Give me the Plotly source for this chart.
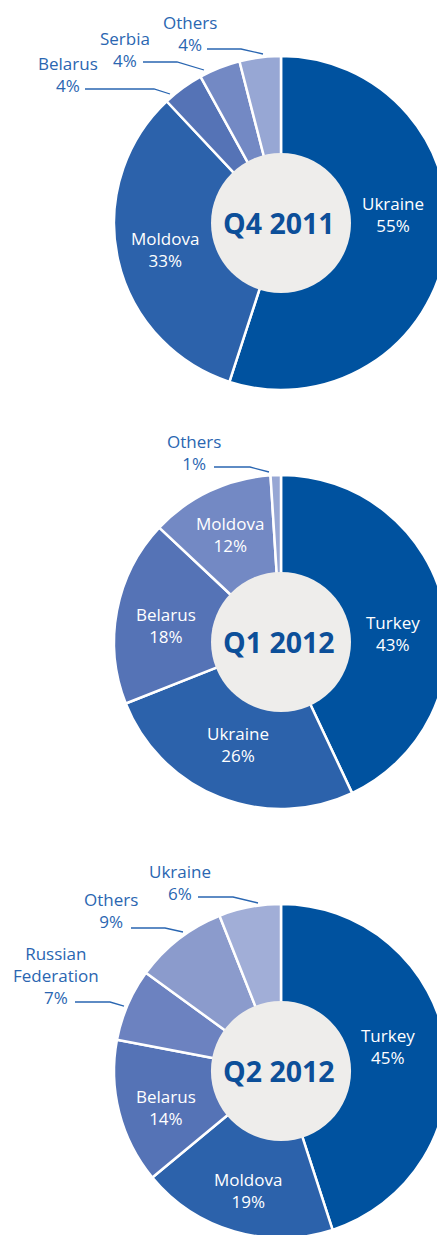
import plotly.graph_objects as go

# ---- data -------------------------------------------------------------
periods = ["Q4 2011", "Q1 2012", "Q2 2012"]

q4_countries = ["Ukraine", "Moldova", "Belarus", "Serbia", "Others"]
q4_shares = [55, 33, 4, 4, 4]

q1_countries = ["Turkey", "Ukraine", "Belarus", "Moldova", "Others"]
q1_shares = [43, 26, 18, 12, 1]

q2_countries = ["Turkey", "Moldova", "Belarus", "Russian Federation", "Others", "Ukraine"]
q2_shares = [45, 19, 14, 7, 9, 6]

# ---- styling ----------------------------------------------------------
W, H = 562, 1240          # canvas in px; the right cap of each ring runs off the page
CX = 281                  # horizontal centre of the rings (px)
CENTERS_Y = [223, 642, 1071]
R_OUT, R_HUB = 167, 70

FONT = "Open Sans"
LABEL_BLUE = "#2A66B1"
TITLE_BLUE = "#0C4F99"
HUB_GREY = "#EEEDEB"

palette5 = ["#00529F", "#2C62AB", "#5573B6", "#7389C4", "#97A7D4"]
palette6 = ["#00529F", "#2C62AB", "#5573B6", "#6C82C0", "#8B9BCC", "#A1AED7"]

# label anchors (px, centre of text block); outside labels carry a leader line
label_layout = [
    {  # Q4 2011
        "Ukraine": dict(xy=(393, 215)),
        "Moldova": dict(xy=(165, 249)),
        "Belarus": dict(xy=(68, 74), leader=[(85, 89), (154, 89), (170, 94)]),
        "Serbia": dict(xy=(125, 50), leader=[(143, 62), (177, 62), (204, 70)]),
        "Others": dict(xy=(190, 33), leader=[(207, 49), (241, 49), (263, 54)]),
    },
    {  # Q1 2012
        "Turkey": dict(xy=(393, 634)),
        "Ukraine": dict(xy=(238, 744)),
        "Belarus": dict(xy=(166, 625)),
        "Moldova": dict(xy=(230, 535)),
        "Others": dict(xy=(194, 452), leader=[(214, 467), (250, 467), (269, 472)]),
    },
    {  # Q2 2012
        "Turkey": dict(xy=(388, 1046)),
        "Moldova": dict(xy=(248, 1190)),
        "Belarus": dict(xy=(166, 1107)),
        "Russian Federation": dict(xy=(56, 975), leader=[(75, 1002), (110, 1002), (124, 1006)]),
        "Others": dict(xy=(111, 911), leader=[(131, 928), (165, 928), (183, 932)]),
        "Ukraine": dict(xy=(180, 882), leader=[(198, 897), (233, 897), (258, 903)]),
    },
]


def px_x(x):
    return x / W


def px_y(y):
    return 1 - y / H


datasets = [
    (q4_countries, q4_shares, palette5),
    (q1_countries, q1_shares, palette5),
    (q2_countries, q2_shares, palette6),
]

fig = go.Figure()
annotations = []
shapes = []

for period, cy, (countries, shares, colors), labels in zip(periods, CENTERS_Y, datasets, label_layout):
    # the ring
    fig.add_trace(go.Pie(
        labels=countries,
        values=shares,
        sort=False,
        direction="clockwise",
        rotation=0,
        hole=0.4,
        marker=dict(colors=colors, line=dict(color="white", width=2.5)),
        textinfo="none",
        hoverinfo="label+percent",
        domain=dict(x=[0, 1], y=[px_y(cy + R_OUT), px_y(cy - R_OUT)]),
        showlegend=False,
    ))
    # grey hub
    fig.add_trace(go.Pie(
        labels=[period],
        values=[1],
        sort=False,
        marker=dict(colors=[HUB_GREY], line=dict(width=0)),
        textinfo="none",
        hoverinfo="skip",
        domain=dict(x=[px_x(CX - R_HUB), px_x(CX + R_HUB)],
                    y=[px_y(cy + R_HUB), px_y(cy - R_HUB)]),
        showlegend=False,
    ))
    annotations.append(dict(
        x=px_x(CX - 2), y=px_y(cy), xref="paper", yref="paper",
        text=period, showarrow=False, xanchor="center", yanchor="middle",
        font=dict(family=FONT, size=28.5, color=TITLE_BLUE, weight="bold"),
    ))

    for name, share in zip(countries, shares):
        spec = labels[name]
        x, y = spec["xy"]
        outside = "leader" in spec
        shown = name.replace(" ", "<br>") if outside else name
        annotations.append(dict(
            x=px_x(x), y=px_y(y), xref="paper", yref="paper",
            text=f"{shown}<br>{share}%", showarrow=False,
            xanchor="center", yanchor="middle", align="center",
            font=dict(family=FONT, size=17, color=LABEL_BLUE if outside else "white"),
        ))
        if outside:
            pts = spec["leader"]
            path = "M " + " L ".join(f"{px_x(px)},{px_y(py)}" for px, py in pts)
            shapes.append(dict(type="path", path=path, xref="paper", yref="paper",
                               line=dict(color=LABEL_BLUE, width=1.3)))

fig.update_layout(
    width=W, height=H,
    margin=dict(l=0, r=0, t=0, b=0),
    paper_bgcolor="white",
    plot_bgcolor="white",
    annotations=annotations,
    shapes=shapes,
    showlegend=False,
)

fig.write_html(
    "out.html",
    post_script="document.documentElement.style.overflow='hidden';"
                "document.body.style.overflow='hidden';",
)
